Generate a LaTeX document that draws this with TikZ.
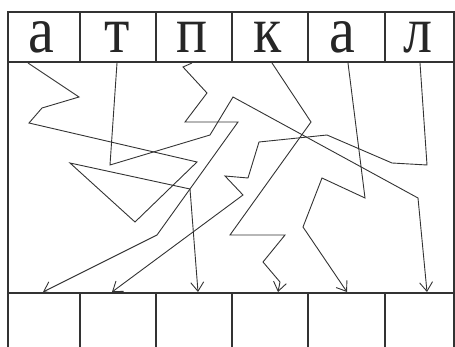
\documentclass[tikz,border=0pt]{standalone}
\usepackage{graphicx}
\usepackage{fontspec}
\newfontfamily\lettfont{Liberation Serif}
\usetikzlibrary{arrows.meta}
\newcommand{\narrowletter}[1]{\scalebox{0.88}[1]{#1}}
\begin{document}
\begin{tikzpicture}[x=1pt,y=-1pt,
  frame/.style={line width=1.8pt, draw=black!80, line cap=rect},
  conn/.style={line width=0.9pt, draw=black!80, line join=miter, -{Straight Barb[length=9pt,width=13pt]}},
  letter/.style={font=\lettfont\fontsize{66}{66}\selectfont, anchor=base, inner sep=0pt, text=black!85}]
\useasboundingbox (0,0) rectangle (455,347);
% frame
\draw[frame] (8,347) -- (8,12) -- (454,12) -- (454,347);
\draw[frame] (8,62) -- (454,62);
\draw[frame] (8,293) -- (454,293);
\foreach \x in {80,156,232,308,385} {
  \draw[frame] (\x,12) -- (\x,62);
  \draw[frame] (\x,293) -- (\x,347);
}
% letters
\node[letter] (l1) at (41,53) {\narrowletter{а}};
\node[letter] (l2) at (117,53) {\narrowletter{т}};
\node[letter] (l3) at (192,53) {\narrowletter{п}};
\node[letter] (l4) at (268,53) {\narrowletter{к}};
\node[letter] (l5) at (342,53) {\narrowletter{а}};
\node[letter] (l6) at (418,53) {\narrowletter{л}};
% start and end points
\coordinate (s1) at (28,63);
\coordinate (s2) at (117,63);
\coordinate (s3) at (192,63);
\coordinate (s4) at (272,63);
\coordinate (s5) at (348,63);
\coordinate (s6) at (420,63);
\coordinate (e1) at (43,292);
\coordinate (e2) at (112,292);
\coordinate (e3) at (198,292);
\coordinate (e4) at (278,292);
\coordinate (e5) at (347,292);
\coordinate (e6) at (427,292);
% connectors
\draw[conn] (s1) -- (79,97) -- (42,108) -- (29,123) -- (197,162) -- (135,222) -- (70,163) -- (190,189) -- (e3);
\draw[conn] (s2) -- (110,165) -- (210,135) -- (233,97) -- (418,198) -- (e6);
\draw[conn] (s3) -- (183,67) -- (207,93) -- (185,122) -- (238,122) -- (157,235) -- (e1);
\draw[conn] (s4) -- (311,122) -- (230,235) -- (285,235) -- (263,262) -- (280,282) -- (e4);
\draw[conn] (s5) -- (365,198) -- (322,178) -- (303,227) -- (e5);
\draw[conn] (s6) -- (427,165) -- (392,163) -- (327,135) -- (259,142) -- (248,178) -- (225,176) -- (243,195) -- (e2);
\end{tikzpicture}
\end{document}
